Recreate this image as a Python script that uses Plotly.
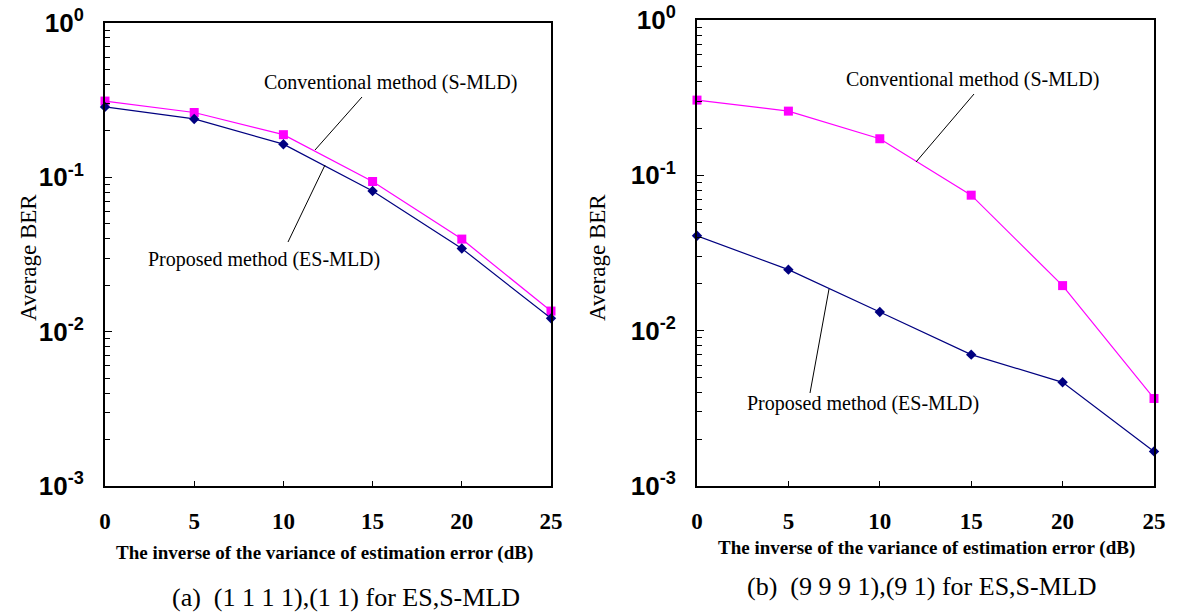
import plotly.graph_objects as go

W, H = 1185, 612

snr_db = [0, 5, 10, 15, 20, 25]
conv_a = [0.312, 0.263, 0.189, 0.094, 0.0398, 0.0136]
prop_a = [0.286, 0.239, 0.164, 0.0815, 0.0346, 0.0122]
conv_b = [0.305, 0.259, 0.172, 0.0745, 0.0195, 0.00366]
prop_b = [0.0408, 0.0247, 0.0132, 0.00701, 0.00465, 0.00167]

y_tickvals = [1e-3, 1e-2, 1e-1, 1]
y_ticktext = ["10<sup>-3</sup>", "10<sup>-2</sup>", "10<sup>-1</sup>", "10<sup>0</sup>"]
x_tickvals = [0, 5, 10, 15, 20, 25]
minor_vals = [m * 10.0 ** e for e in (-3, -2, -1) for m in range(2, 10)]

MAGENTA = "#FF00FF"
NAVY = "#000080"
SERIF = "Liberation Serif, Times New Roman, serif"
SANS = "Liberation Sans, Arial, sans-serif"


def px(x):
    return x / W


def py(y):
    return 1 - y / H


fig = go.Figure()

for i, (conv, prop) in enumerate([(conv_a, prop_a), (conv_b, prop_b)]):
    xa = "x" if i == 0 else "x2"
    ya = "y" if i == 0 else "y2"
    fig.add_trace(go.Scatter(x=snr_db, y=conv, xaxis=xa, yaxis=ya, mode="lines+markers",
                             line=dict(color=MAGENTA, width=1.2),
                             marker=dict(symbol="square", size=9, color=MAGENTA),
                             name="Conventional method (S-MLD)", showlegend=False,
                             cliponaxis=False))
    fig.add_trace(go.Scatter(x=snr_db, y=prop, xaxis=xa, yaxis=ya, mode="lines+markers",
                             line=dict(color=NAVY, width=1.2),
                             marker=dict(symbol="diamond", size=8, color=NAVY),
                             name="Proposed method (ES-MLD)", showlegend=False,
                             cliponaxis=False))

xaxis_common = dict(range=[0, 25], tickvals=x_tickvals, ticks="inside", ticklen=5,
                    tickcolor="black", showline=True, linecolor="black", linewidth=2,
                    mirror=True, showgrid=False, zeroline=False, automargin=False,
                    tickfont=dict(family=SERIF, size=23, color="black", weight="bold"),
                    ticklabelstandoff=13)
yaxis_common = dict(type="log", range=[-3, 0], tickvals=y_tickvals, ticktext=y_ticktext,
                    ticks="inside", ticklen=7, tickcolor="black", showline=True,
                    linecolor="black", linewidth=2, mirror=True, showgrid=False,
                    zeroline=False, automargin=False,
                    tickfont=dict(family=SANS, size=26, color="black", weight="bold"),
                    ticklabelstandoff=14,
                    minor=dict(tickvals=minor_vals, ticks="inside", ticklen=5,
                               tickcolor="black", showgrid=False))

fig.update_layout(
    width=W, height=H, margin=dict(l=0, r=0, t=0, b=0, autoexpand=False),
    plot_bgcolor="white", paper_bgcolor="white",
    xaxis=dict(domain=[px(105), px(551)], anchor="y", **xaxis_common),
    yaxis=dict(domain=[py(486), py(23)], anchor="x", **yaxis_common),
    xaxis2=dict(domain=[px(697), px(1154)], anchor="y2", **xaxis_common),
    yaxis2=dict(domain=[py(486), py(20)], anchor="x2", **yaxis_common),
)

annotations = [
    # axis titles
    dict(x=px(28), y=py(258), text="Average BER", textangle=-90,
         font=dict(family=SERIF, size=23, color="black")),
    dict(x=px(597), y=py(258), text="Average BER", textangle=-90,
         font=dict(family=SERIF, size=23, color="black")),
    dict(x=px(324), y=py(553), text="The inverse of the variance of estimation error (dB)",
         font=dict(family=SERIF, size=19, color="black", weight="bold")),
    dict(x=px(926), y=py(548), text="The inverse of the variance of estimation error (dB)",
         font=dict(family=SERIF, size=19, color="black", weight="bold")),
    # captions
    dict(x=px(346), y=py(597), text="(a)  (1 1 1 1),(1 1) for ES,S-MLD",
         font=dict(family=SERIF, size=26, color="black")),
    dict(x=px(922), y=py(586), text="(b)  (9 9 9 1),(9 1) for ES,S-MLD",
         font=dict(family=SERIF, size=26, color="black")),
    # series labels
    dict(x=px(390), y=py(83), text="Conventional method (S-MLD)",
         font=dict(family=SERIF, size=20, color="black")),
    dict(x=px(264), y=py(259), text="Proposed method (ES-MLD)",
         font=dict(family=SERIF, size=20, color="black")),
    dict(x=px(972), y=py(80), text="Conventional method (S-MLD)",
         font=dict(family=SERIF, size=20, color="black")),
    dict(x=px(863), y=py(403), text="Proposed method (ES-MLD)",
         font=dict(family=SERIF, size=20, color="black")),
]
for a in annotations:
    a.update(xref="paper", yref="paper", showarrow=False, xanchor="center", yanchor="middle")
fig.update_layout(annotations=annotations)

pointer_lines = [
    ((362, 97), (315, 150)),
    ((288, 242), (325, 165)),
    ((974, 94), (916, 162)),
    ((810, 393), (829, 289)),
]
for (x0, y0), (x1, y1) in pointer_lines:
    fig.add_shape(type="line", xref="paper", yref="paper",
                  x0=px(x0), y0=py(y0), x1=px(x1), y1=py(y1),
                  line=dict(color="black", width=1))

fig.write_html("out.html", config={"displayModeBar": False},
               post_script="document.body.style.margin='0';document.body.style.overflow='hidden';")
